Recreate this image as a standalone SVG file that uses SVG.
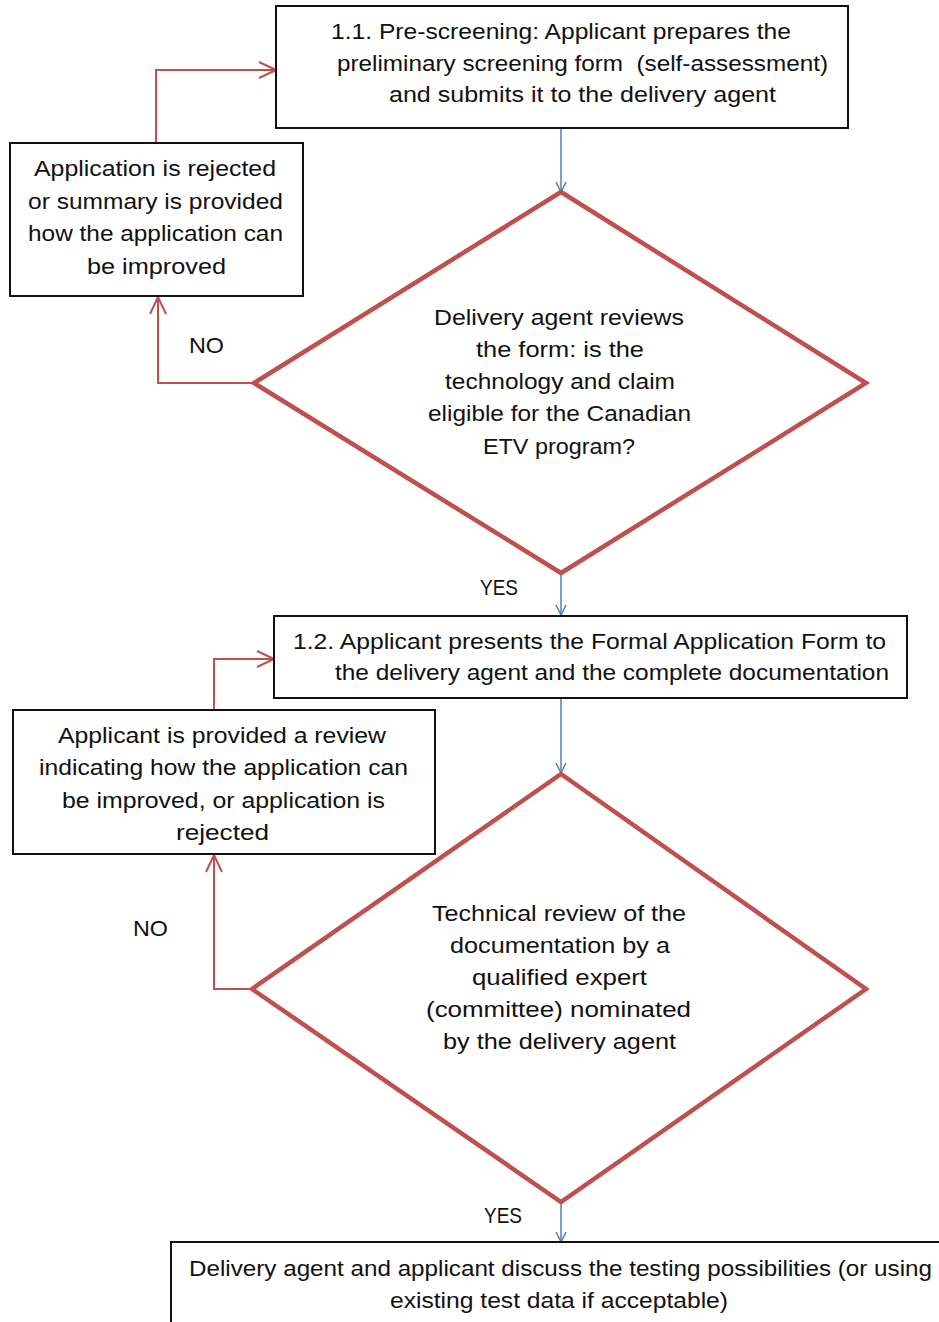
<svg xmlns="http://www.w3.org/2000/svg" width="939" height="1322" viewBox="0 0 939 1322">
<defs>
<style>
text{font-family:"Liberation Sans",Arial,sans-serif;font-size:22px;fill:#111;}
.box{fill:#fff;stroke:#111;stroke-width:2;}
.dia{fill:#fff;stroke:#c0504d;stroke-width:4.5;stroke-linejoin:miter;}
.blue{fill:none;stroke:#4f81bd;stroke-width:1.5;}
.red{fill:none;stroke:#c0504d;stroke-width:2;}
</style>
<marker id="ab" viewBox="0 0 12 12" refX="11" refY="6" markerWidth="12" markerHeight="12" markerUnits="userSpaceOnUse" orient="auto">
<path d="M1,1 L11,6 L1,11" fill="none" stroke="#4f81bd" stroke-width="1.5"/>
</marker>
<marker id="ar" viewBox="0 0 20 20" refX="19" refY="10" markerWidth="20" markerHeight="20" markerUnits="userSpaceOnUse" orient="auto">
<path d="M2,2 L19,10 L2,18" fill="none" stroke="#c0504d" stroke-width="2"/>
</marker>
</defs>
<rect width="939" height="1322" fill="#fff"/>

<g id="connectors">
<path class="blue" d="M561,128 V192" marker-end="url(#ab)"/>
<path class="blue" d="M561,573 V615" marker-end="url(#ab)"/>
<path class="blue" d="M561,698 V773" marker-end="url(#ab)"/>
<path class="blue" d="M561,1202 V1242" marker-end="url(#ab)"/>
<path class="red" d="M254,383 H158 V297" marker-end="url(#ar)"/>
<path class="red" d="M156,143 V70 H276" marker-end="url(#ar)"/>
<path class="red" d="M252,989 H214 V855" marker-end="url(#ar)"/>
<path class="red" d="M214,710 V659 H274" marker-end="url(#ar)"/>
</g>

<g id="box1">
<rect class="box" x="276" y="6" width="572" height="122"/>
<text x="331" y="39" textLength="460" lengthAdjust="spacingAndGlyphs">1.1. Pre-screening: Applicant prepares the</text>
<text x="337" y="71" textLength="491" lengthAdjust="spacingAndGlyphs" xml:space="preserve">preliminary screening form  (self-assessment)</text>
<text x="389" y="102" textLength="387" lengthAdjust="spacingAndGlyphs">and submits it to the delivery agent</text>
</g>

<g id="decision1">
<polygon class="dia" points="561,192 866,383 561,573 254,383"/>
<text x="434" y="325" textLength="250" lengthAdjust="spacingAndGlyphs">Delivery agent reviews</text>
<text x="476" y="357" textLength="168" lengthAdjust="spacingAndGlyphs">the form: is the</text>
<text x="445" y="389" textLength="230" lengthAdjust="spacingAndGlyphs">technology and claim</text>
<text x="428" y="421" textLength="263" lengthAdjust="spacingAndGlyphs">eligible for the Canadian</text>
<text x="483" y="454" textLength="152" lengthAdjust="spacingAndGlyphs">ETV program?</text>
</g>

<g id="reject1">
<rect class="box" x="10" y="143" width="293" height="153"/>
<text x="34" y="176" textLength="242" lengthAdjust="spacingAndGlyphs">Application is rejected</text>
<text x="28" y="209" textLength="255" lengthAdjust="spacingAndGlyphs">or summary is provided</text>
<text x="28" y="241" textLength="255" lengthAdjust="spacingAndGlyphs">how the application can</text>
<text x="87" y="274" textLength="139" lengthAdjust="spacingAndGlyphs">be improved</text>
</g>

<g id="labels">
<text x="189" y="353" textLength="35" lengthAdjust="spacingAndGlyphs">NO</text>
<text x="480" y="595" textLength="38" lengthAdjust="spacingAndGlyphs">YES</text>
<text x="133" y="936" textLength="35" lengthAdjust="spacingAndGlyphs">NO</text>
<text x="484" y="1223" textLength="38" lengthAdjust="spacingAndGlyphs">YES</text>
</g>

<g id="box2">
<rect class="box" x="274" y="616" width="633" height="82"/>
<text x="293" y="649" textLength="593" lengthAdjust="spacingAndGlyphs">1.2. Applicant presents the Formal Application Form to</text>
<text x="335" y="680" textLength="554" lengthAdjust="spacingAndGlyphs">the delivery agent and the complete documentation</text>
</g>

<g id="reject2">
<rect class="box" x="13" y="710" width="422" height="144"/>
<text x="58" y="743" textLength="328" lengthAdjust="spacingAndGlyphs">Applicant is provided a review</text>
<text x="39" y="775" textLength="369" lengthAdjust="spacingAndGlyphs">indicating how the application can</text>
<text x="62" y="808" textLength="323" lengthAdjust="spacingAndGlyphs">be improved, or application is</text>
<text x="176" y="840" textLength="93" lengthAdjust="spacingAndGlyphs">rejected</text>
</g>

<g id="decision2">
<polygon class="dia" points="561,774 866,989 561,1202 252,989"/>
<text x="432" y="921" textLength="254" lengthAdjust="spacingAndGlyphs">Technical review of the</text>
<text x="450" y="953" textLength="220" lengthAdjust="spacingAndGlyphs">documentation by a</text>
<text x="472" y="985" textLength="175" lengthAdjust="spacingAndGlyphs">qualified expert</text>
<text x="426" y="1017" textLength="265" lengthAdjust="spacingAndGlyphs">(committee) nominated</text>
<text x="443" y="1049" textLength="233" lengthAdjust="spacingAndGlyphs">by the delivery agent</text>
</g>

<g id="box3">
<rect class="box" x="171" y="1242" width="790" height="100"/>
<text x="189" y="1276" textLength="743" lengthAdjust="spacingAndGlyphs">Delivery agent and applicant discuss the testing possibilities (or using</text>
<text x="390" y="1308" textLength="338" lengthAdjust="spacingAndGlyphs">existing test data if acceptable)</text>
</g>
</svg>
